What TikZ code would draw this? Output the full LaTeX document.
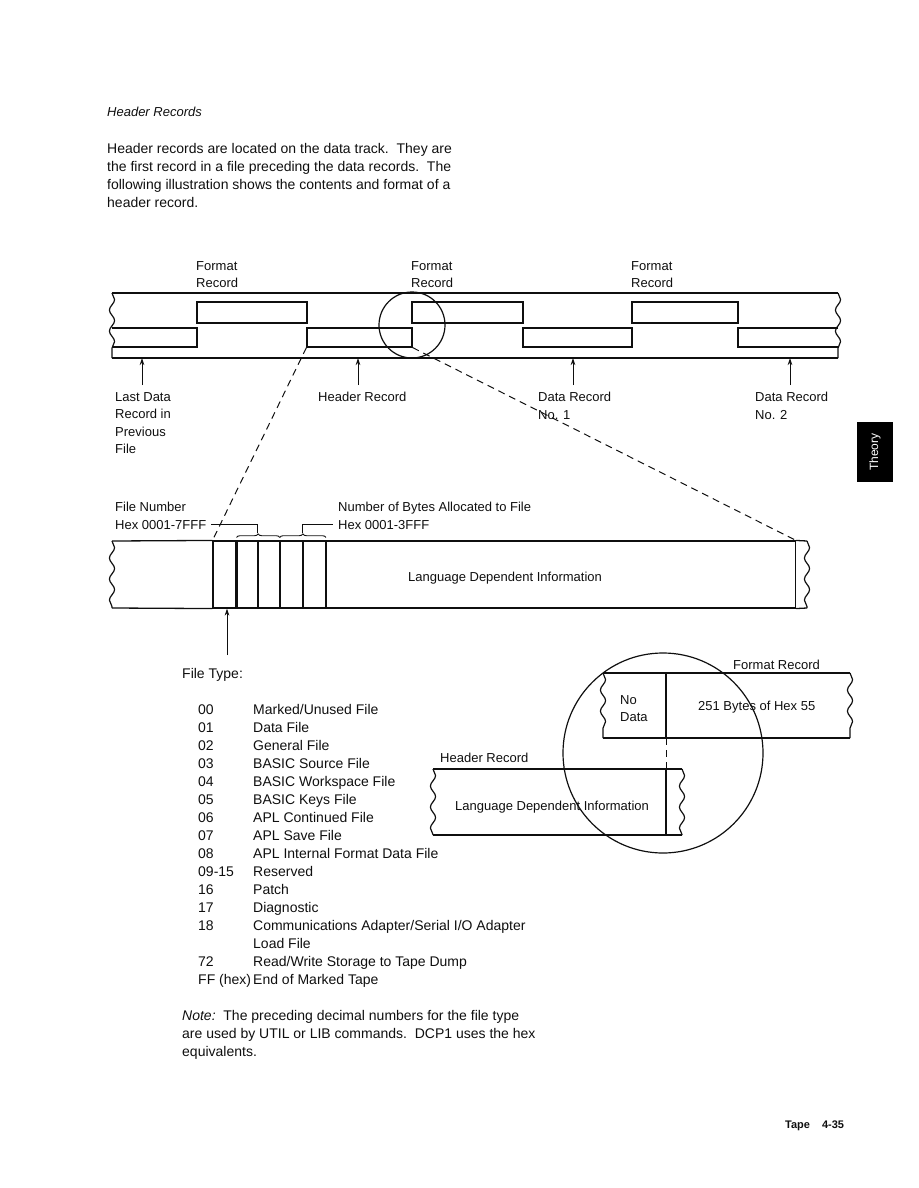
\documentclass[tikz,border=0pt]{standalone}
\usepackage{fontspec}
\setmainfont{Liberation Sans}
\usepackage{tikz}
\usetikzlibrary{arrows.meta, positioning, calc, decorations.pathmorphing, decorations.pathreplacing}
\definecolor{cInk}{RGB}{15,15,15}
\tikzset{
	tapeline/.style ={line width=1.3pt, draw=cInk},
	recline/.style  ={line width=1.2pt, draw=cInk},
	rec/.style      ={rectangle, draw=cInk, line width=1.2pt, inner sep=0pt},
	tear/.style     ={line width=1.2pt, draw=cInk, decorate, decoration={snake, segment length=21pt, amplitude=2.6pt}},
	lbl/.style      ={font=\fontsize{13}{17.5}\selectfont, align=left, inner sep=0pt, text=cInk},
	body/.style     ={font=\fontsize{14}{18}\selectfont, align=left, inner sep=0pt, text=cInk},
	pointer/.style  ={-{Stealth[length=7pt, width=4.5pt]}, line width=0.9pt, draw=cInk},
	zoomline/.style ={dash pattern=on 7pt off 5pt, line width=1pt, draw=cInk},
	leader/.style   ={line width=0.9pt, draw=cInk},
	% byte fields of the header record
	field/.style    ={rectangle, draw=cInk, line width=1.1pt, minimum height=67pt, inner sep=0pt},
	bytebrace/.style={decorate, decoration={brace, amplitude=3.5pt}, line width=0.9pt, draw=cInk},
	lens/.style     ={circle, draw=cInk, line width=1.2pt, inner sep=0pt},
}
\begin{document}
\begin{tikzpicture}[x=1pt, y=-1pt]
\useasboundingbox (0,0) rectangle (918,1188);

% page text
\node[lbl, anchor=base west, font=\fontsize{13}{17.5}\selectfont\itshape] (title) at (107,117) {Header Records};
\node[body, anchor=north west] (intro) at (107,143) {Header records are located on the data track.\ \ They are\\the first record in a file preceding the data records.\ \ The\\following illustration shows the contents and format of a\\header record.};

% tape with format, header and data records
\draw[tapeline] (112,293) -- (838,293);
\draw[tapeline] (112,358) -- (838,358);
\draw[tear] (112,293) -- (112,358);
\draw[tear] (838,293) -- (838,358);
\draw[recline] (112,328) -- (197,328) -- (197,347) -- (112,347);
\node[rec, minimum width=110pt, minimum height=21pt] (fmt1) at (252,312.5) {};
\node[rec, minimum width=105pt, minimum height=19pt] (hdr) at (359.5,337.5) {};
\node[rec, minimum width=111pt, minimum height=21pt] (fmt2) at (467.5,312.5) {};
\node[rec, minimum width=109pt, minimum height=19pt] (dat1) at (577.5,337.5) {};
\node[rec, minimum width=106pt, minimum height=21pt] (fmt3) at (685,312.5) {};
\draw[recline] (838,328) -- (738,328) -- (738,347) -- (838,347);
\node[lens, minimum size=66pt] (lens) at (412,325) {};

\node[lbl, anchor=north west] (fmtlbl1) at (196,261) {Format\\Record};
\node[lbl, anchor=north west] (fmtlbl2) at (411,261) {Format\\Record};
\node[lbl, anchor=north west] (fmtlbl3) at (631,261) {Format\\Record};

\node[lbl, anchor=north west] (lastlbl) at (115,392) {Last Data\\Record in\\Previous\\File};
\node[lbl, anchor=north west] (hdrlbl) at (318,392) {Header Record};
\node[lbl, anchor=north west] (dat1lbl) at (538,392) {Data Record\\No. 1};
\node[lbl, anchor=north west] (dat2lbl) at (755,392) {Data Record\\No. 2};

\coordinate (srcLast) at (142,385);  \coordinate (tipLast) at (142,358);
\coordinate (srcHdr) at (358,385);   \coordinate (tipHdr) at (358,358);
\coordinate (srcD1) at (573,385);    \coordinate (tipD1) at (573,358);
\coordinate (srcD2) at (790,385);    \coordinate (tipD2) at (790,358);
\draw[pointer] (srcLast) -- (tipLast);
\draw[pointer] (srcHdr) -- (tipHdr);
\draw[pointer] (srcD1) -- (tipD1);
\draw[pointer] (srcD2) -- (tipD2);

% header record, enlarged
\node[field, minimum width=23pt] (ftype) at (224.5,574.5) {};
\node[field, minimum width=20pt, right=0pt of ftype] (fnum1) {};
\node[field, minimum width=21pt, right=0pt of fnum1] (fnum2) {};
\node[field, minimum width=22pt, right=0pt of fnum2] (fsz1) {};
\node[field, minimum width=22pt, right=0pt of fsz1] (fsz2) {};
\node[field, minimum width=469pt, right=0pt of fsz2] (lang) {};
\draw[tapeline] (112,541) -- (ftype.north west);
\draw[tapeline] (112,608) -- (ftype.south west);
\draw[tapeline] (lang.north east) -- (807,541);
\draw[tapeline] (lang.south east) -- (807,608);
\draw[tear] (112,541) -- (112,608);
\draw[tear] (807,541) -- (807,608);
\node[lbl, anchor=base west] (langtxt) at (408,581.5) {Language Dependent Information};

\draw[zoomline] (hdr.south west) -- (ftype.north west);
\draw[zoomline] (hdr.south east) -- (lang.north east);

\node[lbl, anchor=base west] (fnumA) at (115,511.5) {File Number};
\node[lbl, anchor=base west] (fnumB) at (115,529) {Hex 0001-7FFF};
\node[lbl, anchor=base west] (nbytesA) at (338,511.5) {Number of Bytes Allocated to File};
\node[lbl, anchor=base west] (nbytesB) at (338,529) {Hex 0001-3FFF};

\draw[bytebrace] ([yshift=3pt]fnum1.north west) -- ([yshift=3pt]fnum2.north east);
\draw[bytebrace] ([yshift=3pt]fsz1.north west) -- ([yshift=3pt]fsz2.north east);
\coordinate (tipNum) at ([yshift=7pt]fnum1.north east);
\coordinate (tipSize) at ([yshift=7pt]fsz1.north east);
\draw[leader] (tipNum) |- ([xshift=5pt]fnumB.east);
\draw[leader] (tipSize) |- ([xshift=-5pt]nbytesB.west);

\node[body, anchor=base west] (ftypelbl) at (182,678) {File Type:};
\coordinate (srcType) at (227,655);
\draw[pointer] (srcType) -- (srcType |- ftype.south);

\node[body, anchor=north west] (ftlist) at (198,701.4) {%
\begin{tabular}{@{}p{55pt}@{}l@{}}
00 & Marked/Unused File\\
01 & Data File\\
02 & General File\\
03 & BASIC Source File\\
04 & BASIC Workspace File\\
05 & BASIC Keys File\\
06 & APL Continued File\\
07 & APL Save File\\
08 & APL Internal Format Data File\\
09-15 & Reserved\\
16 & Patch\\
17 & Diagnostic\\
18 & Communications Adapter/Serial I/O Adapter\\
 & Load File\\
72 & Read/Write Storage to Tape Dump\\
FF (hex) & End of Marked Tape
\end{tabular}};

% format record and header record seen through the lens
\node[lens, minimum size=200pt] (lensbig) at (663,753) {};
\draw[tapeline] (603,673) -- (850,673);
\draw[tapeline] (603,738) -- (850,738);
\draw[tear] (603,673) -- (603,738);
\draw[tear] (850,673) -- (850,738);
\draw[recline] (666,673) -- (666,738);
\draw[tapeline] (433,769) -- (682,769);
\draw[tapeline] (433,835) -- (682,835);
\draw[tear] (433,769) -- (433,835);
\draw[tear] (682,769) -- (682,835);
\draw[recline] (666,769) -- (666,835);
\coordinate (divtop) at (666,738);
\coordinate (divbot) at (666,769);
\draw[zoomline] (divtop) -- (divbot);

\node[lbl, anchor=base west] (fmtlblz) at (733,669.5) {Format Record};
\node[lbl, anchor=north west] (nodata) at (620,695) {No\\Data};
\node[lbl, anchor=base west] (hexfill) at (698,710.5) {251 Bytes of Hex 55};
\node[lbl, anchor=base west] (hdrlblz) at (440,762.5) {Header Record};
\node[lbl, anchor=base west] (langtxtz) at (455,810.5) {Language Dependent Information};

\node[body, anchor=north west] (note) at (182,1010) {\textit{Note:}\ \ The preceding decimal numbers for the file type\\are used by UTIL or LIB commands.\ \ DCP1 uses the hex\\equivalents.};

% margin tab and page footer
\node[fill=black, text=white, rotate=90, minimum width=60pt, minimum height=36pt, inner sep=0pt, font=\fontsize{12}{14}\selectfont] (tab) at (875,452) {Theory};
\node[lbl, anchor=base west, font=\fontsize{11}{13}\selectfont\bfseries] (footer) at (785,1128) {Tape\hspace{12pt}4-35};
\end{tikzpicture}
\end{document}
